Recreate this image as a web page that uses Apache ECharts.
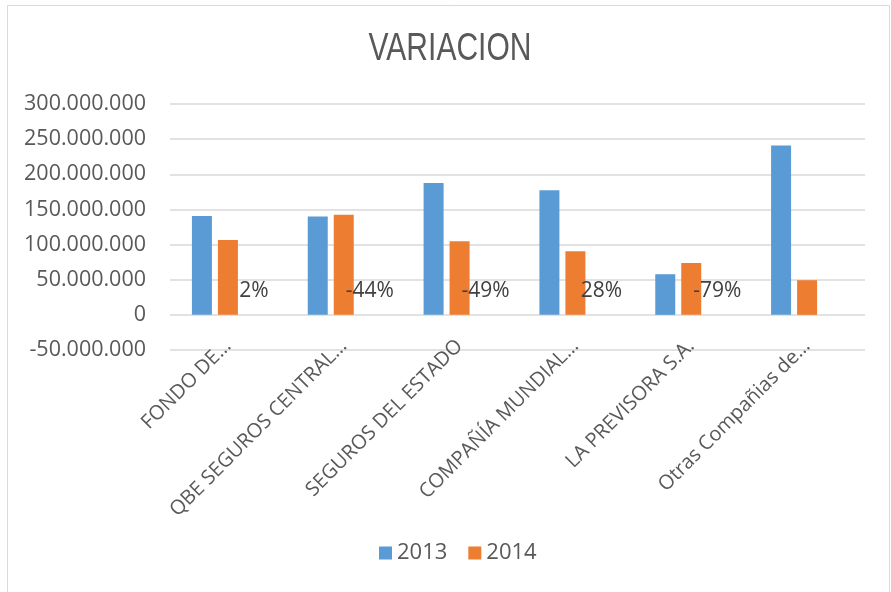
<!DOCTYPE html>
<html><head><meta charset="utf-8">
<script src="https://cdn.jsdelivr.net/npm/echarts@6/dist/echarts.min.js"></script>
<style>html,body{margin:0;padding:0;background:#fff}#c{width:891px;height:592px}</style>
</head><body><div id="c"></div>
<script>
const titleText = 'VARIACION';
const categories = ['FONDO DE…','QBE SEGUROS CENTRAL…','SEGUROS DEL ESTADO','COMPAÑÍA MUNDIAL…','LA PREVISORA S.A.','Otras Compañias de…'];
const values2013 = [140800000, 139800000, 187700000, 177300000, 57800000, 240800000];
const values2014 = [106600000, 142600000, 104800000, 90600000, 73900000, 49300000];
const variacion = [0.02, -0.44, -0.49, 0.28, -0.79, null];
const yTicks = { min: -50000000, max: 300000000, interval: 50000000 };

function fmt(v){ return String(Math.round(v)).replace(/\B(?=(\d{3})+(?!\d))/g,'.'); }

const chart = echarts.init(document.getElementById('c'));
chart.setOption({
  backgroundColor:'#fff',
  animation:false,
  graphic:[
    { type:'rect', shape:{x:7.5,y:5.5,width:882,height:600}, style:{fill:'none',stroke:'#d9d9d9',lineWidth:1}, silent:true },
    { type:'text', x:450, y:49, scaleX:0.77, silent:true,
      style:{ text:titleText, x:0, y:0, textAlign:'center', textVerticalAlign:'middle',
        font:'normal 39px "Liberation Sans", Arial, sans-serif', fill:'#595959' } }
  ],
  legend:{ data:['2013','2014'], bottom:23, left:374, itemWidth:13, itemHeight:13, itemGap:21, icon:'rect',
    textStyle:{ fontFamily:'Open Sans', fontSize:22, color:'#595959' } },
  grid:{ left:170, right:26, top:104, bottom:242, containLabel:false },
  xAxis:{ type:'category', data:categories,
    axisLine:{ show:false, onZero:false }, axisTick:{ show:false },
    axisLabel:{ rotate:45, interval:0, margin:-7, fontFamily:'Open Sans', fontSize:20, color:'#595959' } },
  yAxis:{ type:'value', min:yTicks.min, max:yTicks.max, interval:yTicks.interval,
    axisLine:{show:false}, axisTick:{show:false},
    splitLine:{ lineStyle:{ color:'#d9d9d9', width:1.5 } },
    axisLabel:{ formatter:fmt, margin:24, fontFamily:'Open Sans', fontSize:21.5, color:'#595959' } },
  series:[
    { name:'2013', type:'bar', data:values2013, barWidth:20, barGap:'30%', itemStyle:{ color:'#5B9BD5' } },
    { name:'2014', type:'bar', data:values2014, barWidth:20, barGap:'30%', itemStyle:{ color:'#ED7D31' } },
    { name:'Variacion', type:'bar', data:variacion, barWidth:20, barGap:'30%', itemStyle:{ color:'rgba(0,0,0,0)' },
      label:{ show:true, position:[10,-24], align:'center', verticalAlign:'middle',
        formatter:p => p.value==null ? '' : Math.round(p.value*100)+'%',
        fontFamily:'Open Sans', fontSize:21, color:'#404040' } }
  ]
});
</script></body></html>
